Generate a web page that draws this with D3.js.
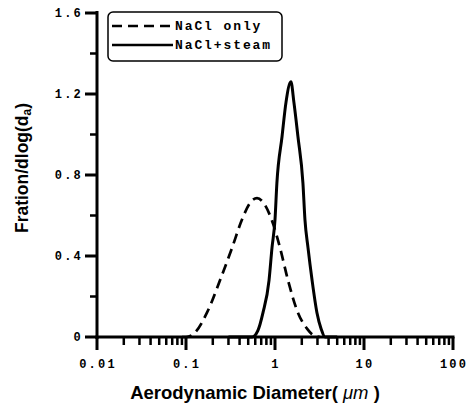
<!DOCTYPE html>
<html>
<head>
<meta charset="utf-8">
<script src="https://cdn.jsdelivr.net/npm/d3@7"></script>
<style>
body { margin: 0; background: #fff; }
</style>
</head>
<body>
<div id="chart"></div>
<script>
var W = 474, H = 405;

// diameters in um and fraction/dlog(da)
var dryD = [0.09, 0.1, 0.125, 0.172, 0.241, 0.329, 0.426, 0.52, 0.628, 0.75, 0.95, 1.14, 1.40, 1.81, 2.3, 2.67, 3.2];
var dryF = [0, 0.0, 0.02, 0.12, 0.28, 0.44, 0.58, 0.66, 0.686, 0.66, 0.56, 0.44, 0.28, 0.12, 0.04, 0.01, 0];

var wetD = [0.3, 0.46, 0.552, 0.64, 0.733, 0.857, 0.925, 1.0, 1.05, 1.20, 1.33, 1.51, 1.63, 1.81, 2.06, 2.17, 2.35, 2.61, 2.96, 3.3, 3.65, 5];
var wetF = [0, 0, 0.0, 0.03, 0.12, 0.28, 0.44, 0.58, 0.76, 0.99, 1.16, 1.26, 1.16, 0.99, 0.76, 0.58, 0.44, 0.28, 0.12, 0.04, 0.0, 0];

var seriesNames = ["NaCl only", "NaCl+steam"];
var xTicks = [0.01, 0.1, 1, 10, 100];
var xTickLabels = ["0.01", "0.1", "1", "10", "100"];
var yTicks = [0, 0.4, 0.8, 1.2, 1.6];
var yTickLabels = ["0", "0.4", "0.8", "1.2", "1.6"];
var yMinor = [0.2, 0.6, 1.0, 1.4];

var x = d3.scaleLog().domain([0.01, 100]).range([97, 453]);
var y = d3.scaleLinear().domain([0, 1.6]).range([337, 13]);

var svg = d3.select('#chart').append('svg')
  .attr('width', W).attr('height', H);

var mono = "'Liberation Mono', 'DejaVu Sans Mono', monospace";
var sans = "'Liberation Sans', Arial, sans-serif";

var xMinor = [];
[0.01, 0.1, 1, 10].forEach(function(b) {
  for (var k = 2; k <= 9; k++) xMinor.push(b * k);
});

// ticks as small filled rects
svg.selectAll('rect.xminor').data(xMinor).enter().append('rect')
  .attr('class', 'xminor')
  .attr('x', function(d) { return x(d) - 1.25; }).attr('y', 337)
  .attr('width', 2.5).attr('height', 8).attr('fill', '#000');

svg.selectAll('rect.xmajor').data(xTicks).enter().append('rect')
  .attr('class', 'xmajor')
  .attr('x', function(d) { return x(d) - 1.5; }).attr('y', 337)
  .attr('width', 3).attr('height', 13).attr('fill', '#000');

svg.selectAll('rect.yminor').data(yMinor).enter().append('rect')
  .attr('class', 'yminor')
  .attr('x', 90).attr('y', function(d) { return y(d) - 1.25; })
  .attr('width', 7).attr('height', 2.5).attr('fill', '#000');

svg.selectAll('rect.ymajor').data(yTicks).enter().append('rect')
  .attr('class', 'ymajor')
  .attr('x', 85).attr('y', function(d) { return y(d) - 1.5; })
  .attr('width', 12).attr('height', 3).attr('fill', '#000');

// axis lines
svg.append('rect').attr('x', 95.5).attr('y', 11).attr('width', 3).attr('height', 328).attr('fill', '#000');
svg.append('rect').attr('x', 95.5).attr('y', 335.5).attr('width', 359).attr('height', 3).attr('fill', '#000');

// tick labels
svg.selectAll('text.xl').data(xTicks).enter().append('text')
  .attr('class', 'xl')
  .attr('x', function(d) { return x(d) + 1; }).attr('y', 368)
  .attr('text-anchor', 'middle')
  .attr('font-family', mono).attr('font-weight', 'bold').attr('font-size', '12px')
  .attr('letter-spacing', '2.2px')
  .text(function(d, i) { return xTickLabels[i]; });

svg.selectAll('text.yl').data(yTicks).enter().append('text')
  .attr('class', 'yl')
  .attr('x', 83).attr('y', function(d) { return y(d) + 4; })
  .attr('text-anchor', 'end')
  .attr('font-family', mono).attr('font-weight', 'bold').attr('font-size', '12px')
  .attr('letter-spacing', '2.2px')
  .text(function(d, i) { return yTickLabels[i]; });

// axis titles
var xt = svg.append('text').attr('x', 255).attr('y', 399)
  .attr('text-anchor', 'middle')
  .attr('font-family', sans).attr('font-weight', 'bold').attr('font-size', '18.5px');
xt.append('tspan').text('Aerodynamic Diameter( ');
xt.append('tspan').attr('font-weight', 'normal').attr('font-style', 'italic').text('\u03bcm');
xt.append('tspan').text(' )');

var yt = svg.append('text')
  .attr('transform', 'translate(28,168) rotate(-90)')
  .attr('text-anchor', 'middle')
  .attr('font-family', sans).attr('font-weight', 'bold').attr('font-size', '17.5px');
yt.append('tspan').text('Fration/dlog(d');
yt.append('tspan').attr('font-size', '12px').attr('dy', 3).text('a');
yt.append('tspan').attr('dy', -3).text(')');

// curves
var line = d3.line()
  .x(function(d) { return x(d[0]); })
  .y(function(d) { return y(d[1]); })
  .curve(d3.curveMonotoneX);

var dry = dryD.map(function(d, i) { return [d, dryF[i]]; });
var wet = wetD.map(function(d, i) { return [d, wetF[i]]; });

svg.append('path').attr('d', line(dry))
  .attr('fill', 'none').attr('stroke', '#000').attr('stroke-width', 2.7)
  .attr('stroke-dasharray', '10,6');
svg.append('path').attr('d', line(wet))
  .attr('fill', 'none').attr('stroke', '#000').attr('stroke-width', 3);

// legend
var leg = svg.append('g');
leg.append('rect').attr('x', 108).attr('y', 12).attr('width', 174).attr('height', 49)
  .attr('rx', 5).attr('fill', '#fff').attr('stroke', '#000').attr('stroke-width', 1.5);
var dashes = ['10,6', null];
seriesNames.forEach(function(name, i) {
  var ly = 26 + i * 19;
  var l = leg.append('line').attr('x1', 112).attr('x2', 173).attr('y1', ly).attr('y2', ly)
    .attr('stroke', '#000').attr('stroke-width', 2.7);
  if (dashes[i]) l.attr('stroke-dasharray', dashes[i]);
  leg.append('text').attr('x', 175).attr('y', ly + 4)
    .attr('font-family', mono).attr('font-weight', 'bold').attr('font-size', '13px')
    .attr('letter-spacing', '1.9px')
    .text(name);
});
</script>
</body>
</html>
